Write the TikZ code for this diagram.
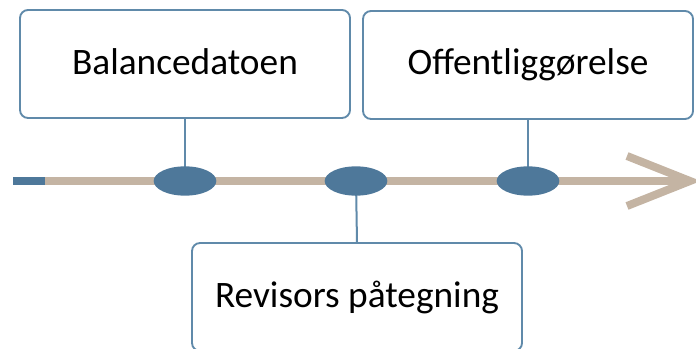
\documentclass[tikz,border=0pt]{standalone}
\usepackage{fontspec}
\setmainfont{Carlito}
\usetikzlibrary{shapes.geometric,backgrounds}

\definecolor{boxblue}{RGB}{96,138,170}
\definecolor{dotblue}{RGB}{78,120,154}
\definecolor{linetan}{RGB}{196,180,163}

\tikzset{every picture/.style={line width=0.75pt}}
\tikzset{
  eventbox/.style={draw=boxblue, line width=1.4pt, rounded corners=6pt, fill=white,
    minimum width=247.5pt, minimum height=81pt, inner sep=0pt, font=\fontsize{28}{32}\selectfont},
  eventdot/.style={ellipse, fill=dotblue, minimum width=47pt, minimum height=22pt, inner sep=0pt},
  tick/.style={draw=boxblue, line width=1.5pt}
}

\begin{document}
\begin{tikzpicture}[x=0.75pt,y=0.75pt,yscale=-1,xscale=1]
\useasboundingbox (0,0) rectangle (696,349);

%Timeline
\coordinate (start) at (45,181);
\coordinate (tip) at (690,181);
\draw [color=linetan, line width=6pt] (start) -- (tip);
\draw [color=linetan, line width=6pt, line join=miter] (627,156) -- (tip) -- (627,206);
%Shape: Rectangle (start stub)
\fill [color=dotblue] (13,177) rectangle (45,185);

%Event dots
\node [eventdot] (d1) at (185,181) {};
\node [eventdot] (d2) at (356,181) {};
\node [eventdot] (d3) at (528,181) {};

%Boxes
\node [eventbox] (balance) at (185,64) {\raisebox{4pt}{Balancedatoen}};
\node [eventbox] (offentlig) at (528,65) {\raisebox{4pt}{Offentliggørelse}};
\node [eventbox] (revisor) at (357,297) {Revisors påtegning};

%Connectors
\begin{scope}[on background layer]
\draw [tick] (balance.south) -- (d1.center);
\draw [tick] (offentlig.south) -- (d3.center);
\draw [tick] (revisor.north) -- (d2.center);
\end{scope}

\end{tikzpicture}
\end{document}
